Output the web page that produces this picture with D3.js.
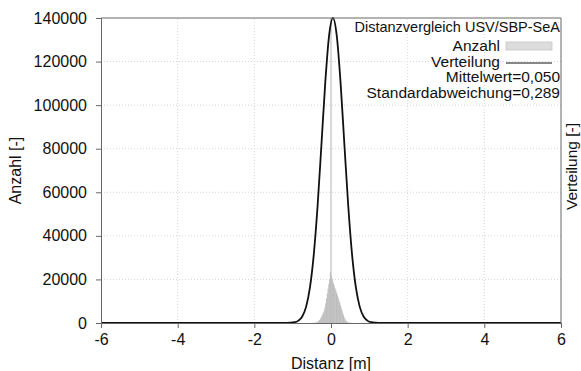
<!DOCTYPE html>
<html>
<head>
<meta charset="utf-8">
<script src="https://cdn.jsdelivr.net/npm/d3@7"></script>
<style>
  body { margin: 0; background: #fff; }
  svg text { font-family: "Liberation Sans", Arial, sans-serif; fill: #111; }
</style>
</head>
<body>
<div id="chart"></div>
<script>
// histogram bins (centre in m) and counts
const binX = [-0.46, -0.44, -0.42, -0.40, -0.38, -0.36, -0.34, -0.32, -0.30, -0.28,
  -0.26, -0.24, -0.22, -0.20, -0.18, -0.16, -0.14, -0.12, -0.10, -0.08,
  -0.06, -0.04, -0.02, 0.00, 0.02, 0.04, 0.06, 0.08, 0.10, 0.12,
  0.14, 0.16, 0.18, 0.20, 0.22, 0.24, 0.26, 0.28, 0.30, 0.32,
  0.34, 0.36, 0.38, 0.40, 0.42, 0.44, 0.46, 0.48, 0.50];
const binCount = [50, 80, 120, 180, 300, 450, 700, 1000, 1400, 1900,
  2500, 3200, 4000, 4900, 5900, 7200, 9000, 11300, 13600, 15700,
  17800, 20000, 23300, 22000, 20500, 19500, 18200, 17200, 16000, 15200,
  14000, 12800, 11800, 10800, 9600, 8300, 7000, 6000, 4800, 3700,
  2600, 1800, 1200, 800, 500, 300, 180, 100, 60];
const binWidth = 0.02;

// distribution curve
const curveX = [-6, -1.5, -1.15, -0.95, -0.85, -0.75, -0.65, -0.55, -0.45, -0.35, -0.25, -0.15, -0.05,
  0.05, 0.15, 0.25, 0.35, 0.45, 0.55, 0.65, 0.75, 0.85, 0.95, 1.05, 1.25, 1.6, 6];
const curveY = [0, 0, 25, 350, 1100, 3000, 7400, 16200, 31300, 53700, 81700, 110200, 131900,
  140000, 131900, 110200, 81700, 53700, 31300, 16200, 7400, 3000, 1100, 350, 25, 0, 0];

const xTicks = [-6, -4, -2, 0, 2, 4, 6];
const yTicks = [0, 20000, 40000, 60000, 80000, 100000, 120000, 140000];

const legendTitle = "Distanzvergleich USV/SBP-SeA";
const legendLines = ["Mittelwert=0,050", "Standardabweichung=0,289"];

const width = 581, height = 371;
const margin = { top: 18, right: 20, bottom: 48, left: 101 };

const svg = d3.select("#chart").append("svg")
  .attr("width", width)
  .attr("height", height);

const x = d3.scaleLinear().domain([-6, 6]).range([margin.left, width - margin.right]);
const y = d3.scaleLinear().domain([0, 140000]).range([height - margin.bottom, margin.top]);

// grid
svg.append("g")
  .selectAll("line")
  .data(xTicks.filter(d => d > -6 && d < 6))
  .join("line")
  .attr("x1", d => x(d)).attr("x2", d => x(d))
  .attr("y1", y(0)).attr("y2", y(140000))
  .attr("stroke", "#d6d6d6")
  .attr("stroke-dasharray", "1,2");
svg.append("g")
  .selectAll("line")
  .data(yTicks.filter(d => d > 0 && d < 140000))
  .join("line")
  .attr("x1", x(-6)).attr("x2", x(6))
  .attr("y1", d => y(d)).attr("y2", d => y(d))
  .attr("stroke", "#d6d6d6")
  .attr("stroke-dasharray", "1,2");

// zero line
svg.append("line")
  .attr("x1", x(0)).attr("x2", x(0))
  .attr("y1", y(0)).attr("y2", y(140000))
  .attr("stroke", "#d9d9d9")
  .attr("stroke-width", 2);

// histogram
svg.append("g")
  .selectAll("rect")
  .data(binX)
  .join("rect")
  .attr("x", d => x(d - binWidth / 2))
  .attr("width", (d) => x(d + binWidth / 2) - x(d - binWidth / 2) + 0.3)
  .attr("y", (d, i) => y(binCount[i]))
  .attr("height", (d, i) => y(0) - y(binCount[i]))
  .attr("fill", "#bdbdbd");

// distribution curve
const line = d3.line()
  .x(d => x(d[0]))
  .y(d => y(d[1]))
  .curve(d3.curveMonotoneX);
svg.append("path")
  .datum(curveX.map((d, i) => [d, curveY[i]]))
  .attr("fill", "none")
  .attr("stroke", "#111")
  .attr("stroke-width", 1.8)
  .attr("d", line);

// frame and axes
const xAxis = svg.append("g")
  .attr("transform", `translate(0,${y(0)})`)
  .call(d3.axisBottom(x).tickValues(xTicks).tickSize(5).tickPadding(6)
    .tickFormat(d => String(d)));
const yAxis = svg.append("g")
  .attr("transform", `translate(${x(-6)},0)`)
  .call(d3.axisLeft(y).tickValues(yTicks).tickSize(5).tickPadding(9).tickFormat(d => String(d)));
[xAxis, yAxis].forEach(a => {
  a.select(".domain").attr("stroke", "#666");
  a.selectAll(".tick line").attr("stroke", "#666");
  a.selectAll(".tick text").attr("font-size", 16).attr("fill", "#111")
    .attr("font-family", "Liberation Sans, Arial, sans-serif");
});
svg.append("line")
  .attr("x1", x(-6)).attr("x2", x(6)).attr("y1", y(140000)).attr("y2", y(140000))
  .attr("stroke", "#666");
svg.append("line")
  .attr("x1", x(6)).attr("x2", x(6)).attr("y1", y(140000)).attr("y2", y(0))
  .attr("stroke", "#666");

// axis titles
svg.append("text")
  .attr("x", (x(-6) + x(6)) / 2).attr("y", 369)
  .attr("text-anchor", "middle").attr("font-size", 16)
  .text("Distanz [m]");
svg.append("text")
  .attr("transform", `translate(21,${(y(0) + y(140000)) / 2}) rotate(-90)`)
  .attr("text-anchor", "middle").attr("font-size", 16)
  .text("Anzahl [-]");
svg.append("text")
  .attr("transform", `translate(577,${(y(0) + y(140000)) / 2 - 4}) rotate(-90)`)
  .attr("text-anchor", "middle").attr("font-size", 15.5)
  .text("Verteilung [-]");

// legend
const lg = svg.append("g").attr("text-anchor", "end");
const lx = 560;
lg.append("text").attr("x", lx).attr("y", 32).attr("font-size", 14.5).text(legendTitle);
lg.append("text").attr("x", 500).attr("y", 51).attr("font-size", 15.5).text("Anzahl");
lg.append("rect").attr("x", 506).attr("y", 42).attr("width", 46).attr("height", 8)
  .attr("fill", "#dcdcdc").attr("stroke", "#c6c6c6").attr("stroke-width", 0.8);
lg.append("text").attr("x", 500).attr("y", 67).attr("font-size", 15.5).text("Verteilung");
lg.append("line").attr("x1", 506).attr("x2", 552).attr("y1", 63).attr("y2", 63)
  .attr("stroke", "#111").attr("stroke-width", 1.2);
lg.selectAll("text.stat")
  .data(legendLines)
  .join("text")
  .attr("class", "stat")
  .attr("x", lx).attr("y", (d, i) => 82 + i * 16)
  .attr("font-size", 15.5)
  .text(d => d);
</script>
</body>
</html>
